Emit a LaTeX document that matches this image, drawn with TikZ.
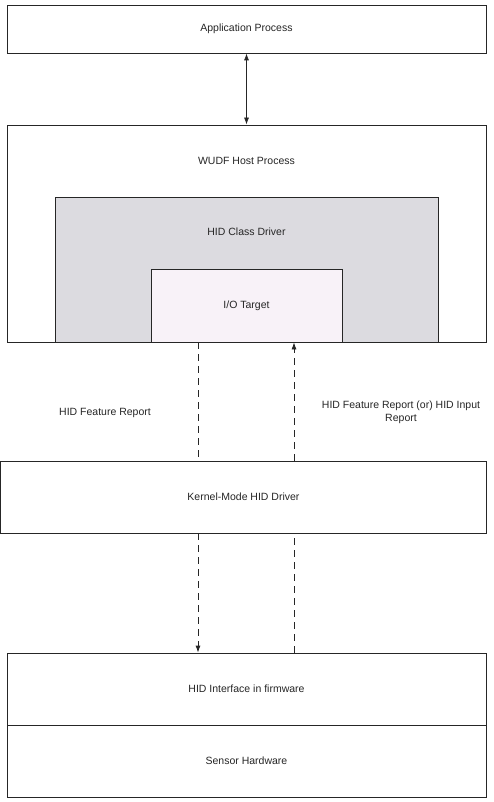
\documentclass[tikz,border=0pt]{standalone}
\usepackage{fontspec}
\setmainfont{Liberation Sans}
\usetikzlibrary{arrows.meta}
\definecolor{classgray}{HTML}{DCDBE0}
\definecolor{iofill}{HTML}{F8F2F8}
\begin{document}
\begin{tikzpicture}[x=1pt,y=1pt,
  box/.style={draw=black!85,line width=0.8pt,inner sep=0pt,rectangle},
  lbl/.style={font=\fontsize{10.5}{13}\selectfont,text=black!85},
  dashline/.style={draw=black!85,line width=0.8pt,dash pattern=on 7pt off 5pt},
  tip/.style={-{Latex[length=7pt,width=5pt]}}]
\useasboundingbox (0,0) rectangle (493,-802);
\fill[white] (0,0) rectangle (493,-802);
% boxes
\node[box,minimum width=479pt,minimum height=48pt,lbl] (app) at (246.5,-29) {Application Process};
\node[box,minimum width=479pt,minimum height=217pt,
  label={[lbl,anchor=center,yshift=-36pt]north:WUDF Host Process}] (wudf) at (246.5,-233.5) {};
\node[box,fill=classgray,minimum width=383pt,minimum height=145pt,
  label={[lbl,anchor=center,yshift=-35pt]north:HID Class Driver}] (hidclass) at (246.5,-269.5) {};
\node[box,fill=iofill,minimum width=191pt,minimum height=73pt,lbl] (io) at (246.5,-305.5) {I/O Target};
\node[box,minimum width=486pt,minimum height=72pt,lbl] (kernel) at (243.5,-497) {Kernel-Mode HID Driver};
\node[box,minimum width=479pt,minimum height=72pt,lbl] (hidif) at (246.5,-689) {HID Interface in firmware};
\node[box,minimum width=479pt,minimum height=72pt,lbl] (sensor) at (246.5,-761) {Sensor Hardware};
% labels
\node[lbl] (lfeat) at (105,-413) {HID Feature Report};
\node[lbl,align=center] (rfeat) at (401,-412.5) {HID Feature Report (or) HID Input\\Report};
% coordinates for dashed connectors
\coordinate (l1) at ([xshift=-48.5pt]io.south);
\coordinate (r1) at ([xshift=47.5pt]io.south);
% solid double arrow
\draw[black!85,line width=0.8pt,{Latex[length=7pt,width=5pt]}-{Latex[length=7pt,width=5pt]}] (app.south) -- (wudf.north);
% dashed connectors
\draw[dashline] (l1) -- (l1 |- kernel.north);
\draw[dashline,tip] (l1 |- kernel.south) -- (l1 |- hidif.north);
\draw[dashline,tip] (r1 |- kernel.north) -- (r1);
\draw[dashline] (r1 |- hidif.north) -- (r1 |- kernel.south);
\end{tikzpicture}
\end{document}
